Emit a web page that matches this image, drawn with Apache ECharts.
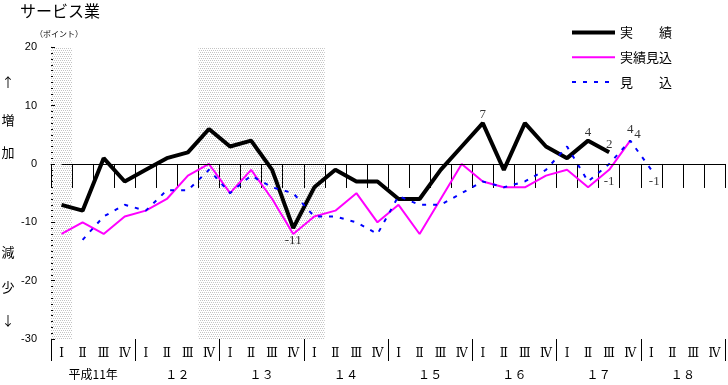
<!DOCTYPE html>
<html><head><meta charset="utf-8">
<script src="https://cdn.jsdelivr.net/npm/echarts@6/dist/echarts.min.js"></script>
<style>html,body{margin:0;padding:0;background:#fff}#c{width:728px;height:385px}</style>
</head><body><div id="c"></div>
<script>
// ---- data ----
const years = ['平成11年', '１２', '１３', '１４', '１５', '１６', '１７', '１８'];
const quarters = ['Ⅰ', 'Ⅱ', 'Ⅲ', 'Ⅳ'];
const actual = [-7, -8, 1, -3, -1, 1, 2, 6, 3, 4, -1, -11, -4, -1, -3, -3, -6, -6, -1, 3, 7, -1, 7, 3, 1, 4, 2, null, null, null, null, null];
const actualEstimate = [-12, -10, -12, -9, -8, -6, -2, 0, -5, -1, -6, -12, -9, -8, -5, -10, -7, -12, -6, 0, -3, -4, -4, -2, -1, -4, -1, 4, null, null, null, null];
const forecast = [null, -13, -9, -7, -8, -4.5, -4.5, -1, -5, -2, -4, -5, -9, -9, -10, -12, -5.5, -7, -7, -5, -3, -4, -3, -1, 3, -3, 0, 4, -1, null, null, null];
const shadedQuarters = [0, 7, 8, 9, 10, 11, 12];
const yMin = -30, yMax = 20, yStep = 10;
const seriesNames = ['実　　績', '実績見込', '見　　込'];

const categories = [];
years.forEach((y, yi) => quarters.forEach((q, qi) => categories.push(yi + '-' + q)));

// ---- styles ----
const lineWidths = [4, 2, 2];
const labelSpec = {
  actual: {11: {position: 'bottom', distance: 5}, 20: {position: 'top', distance: 1}, 25: {position: 'top', distance: 1}, 26: {position: 'top', distance: 0}},
  actualEstimate: {26: {position: 'bottom', distance: 4}, 27: {position: 'top', distance: 4}},
  forecast: {27: {position: 'right', distance: 3, offset: [0, -6]}, 28: {position: 'bottom', distance: 4, offset: [3, 0]}}
};
function labelSeries(arr, spec) {
  return {
    type: 'scatter', name: 'lbl', silent: true, z: 6,
    symbol: 'circle', symbolSize: 2, itemStyle: {color: 'rgba(0,0,0,0)'},
    data: arr.map((v, i) => spec[i] ? {
      value: [i, v],
      label: Object.assign({show: true, color: '#000', fontFamily: '"Liberation Serif", serif', fontSize: 13}, spec[i])
    } : null).filter(d => d)
  };
}

// dotted pattern for shading
const pc = document.createElement('canvas');
pc.width = 4; pc.height = 4;
const pctx = pc.getContext('2d');
pctx.fillStyle = '#fff'; pctx.fillRect(0, 0, 4, 4);
pctx.fillStyle = '#c4c4c4';
pctx.fillRect(0, 0, 1, 1); pctx.fillRect(2, 0, 1, 1);
pctx.fillRect(1, 2, 1, 1); pctx.fillRect(3, 2, 1, 1);

const shadeData = categories.map((c, i) => shadedQuarters.indexOf(i) >= 0 ? 1 : null);

const FF = '"Noto Sans CJK JP", sans-serif';
const chart = echarts.init(document.getElementById('c'), null, {renderer: 'canvas'});
chart.setOption({
  animation: false,
  backgroundColor: '#fff',
  grid: {left: 51, right: 3, top: 47.3, bottom: 46, outerBoundsMode: 'none', containLabel: false},
  legend: {
    data: seriesNames.map((n, i) => ({name: n, lineStyle: {width: lineWidths[i]}})),
    orient: 'vertical', left: 570, top: 26, padding: 0,
    itemWidth: 43, itemHeight: 14, itemGap: 11.7, selectedMode: false,
    itemStyle: {opacity: 0, borderWidth: 0, color: 'rgba(0,0,0,0)'},
    textStyle: {fontFamily: FF, fontSize: 13, color: '#000'}
  },
  graphic: [
    {type: 'text', left: 20, top: 3, style: {text: 'サービス業', font: '16px ' + FF, fill: '#000'}},
    {type: 'text', left: 35, top: 30, style: {text: '（ポイント）', font: '8px ' + FF, fill: '#000'}},
    {type: 'text', x: 8, y: 82, style: {text: '↑', font: '13px ' + FF, fill: '#000', textAlign: 'center', textVerticalAlign: 'middle'}},
    {type: 'text', x: 8, y: 120, style: {text: '増', font: '13px ' + FF, fill: '#000', textAlign: 'center', textVerticalAlign: 'middle'}},
    {type: 'text', x: 8, y: 152, style: {text: '加', font: '13px ' + FF, fill: '#000', textAlign: 'center', textVerticalAlign: 'middle'}},
    {type: 'text', x: 8, y: 252, style: {text: '減', font: '13px ' + FF, fill: '#000', textAlign: 'center', textVerticalAlign: 'middle'}},
    {type: 'text', x: 8, y: 287, style: {text: '少', font: '13px ' + FF, fill: '#000', textAlign: 'center', textVerticalAlign: 'middle'}},
    {type: 'text', x: 8, y: 320, style: {text: '↓', font: '13px ' + FF, fill: '#000', textAlign: 'center', textVerticalAlign: 'middle'}}
  ],
  xAxis: [
    {
      type: 'category', data: categories, boundaryGap: true, position: 'bottom',
      axisLine: {show: true, lineStyle: {color: '#000', width: 1}},
      axisTick: {show: true, interval: 0, length: 24, lineStyle: {color: '#000'}},
      axisLabel: {interval: 0, margin: 9, color: '#000', fontFamily: '"DejaVu Serif", serif', fontSize: 12, formatter: v => v.split('-')[1]},
      splitLine: {show: false}
    },
    {
      type: 'category', data: years, boundaryGap: true, position: 'bottom', offset: 24,
      axisLine: {show: false},
      axisTick: {show: true, interval: 0, length: 22, lineStyle: {color: '#000'}},
      axisLabel: {interval: 0, margin: 5, color: '#000', fontFamily: FF, fontSize: 12},
      splitLine: {show: false}
    }
  ],
  yAxis: [
    {
      type: 'value', min: yMin, max: yMax, interval: yStep,
      axisLine: {show: true, lineStyle: {color: '#000'}},
      axisTick: {show: true, inside: true, length: 4, lineStyle: {color: '#000'}},
      minorTick: {show: true, splitNumber: 10, length: 2, lineStyle: {color: '#000'}},
      axisLabel: {margin: 14, color: '#000', fontFamily: '"Liberation Sans", sans-serif', fontSize: 11},
      splitLine: {show: false}
    },
    {type: 'value', min: 0, max: 1, show: false}
  ],
  series: [
    {
      type: 'bar', name: 'shade', data: shadeData, xAxisIndex: 0, yAxisIndex: 1,
      barWidth: '100%', barGap: '-100%', silent: true, z: 0,
      itemStyle: {color: {image: pc, repeat: 'repeat'}}
    },
    {
      type: 'line', name: seriesNames[0], data: actual,
      symbol: 'none', showSymbol: false, lineStyle: {color: '#000', width: lineWidths[0]}, itemStyle: {color: '#000'}, z: 3,
      markLine: {
        silent: true, symbol: ['none', 'none'], label: {show: false},
        lineStyle: {color: '#000', width: 1, type: 'solid'},
        data: [[{coord: [categories[0], 0]}, {coord: [categories[categories.length - 1], 0]}]]
      }
    },
    {
      type: 'line', name: seriesNames[1], data: actualEstimate,
      symbol: 'none', showSymbol: false, lineStyle: {color: '#ff00ff', width: lineWidths[1]}, itemStyle: {color: '#ff00ff'}, z: 3
    },
    {
      type: 'line', name: seriesNames[2], data: forecast,
      symbol: 'none', showSymbol: false, lineStyle: {color: '#0000ff', width: lineWidths[2], type: [4, 7]}, itemStyle: {color: '#0000ff'}, z: 4
    },
    labelSeries(actual, labelSpec.actual),
    labelSeries(actualEstimate, labelSpec.actualEstimate),
    labelSeries(forecast, labelSpec.forecast)
  ]
});
</script></body></html>
